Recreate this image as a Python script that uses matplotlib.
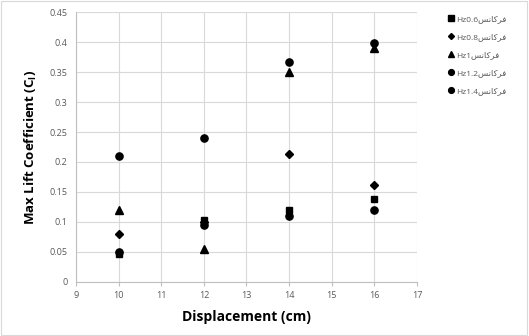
import matplotlib.pyplot as plt
from matplotlib.patches import Rectangle

# data
disp = [10, 12, 14, 16]
cl_06 = [0.046, 0.103, 0.120, 0.138]
cl_08 = [0.080, 0.100, 0.213, 0.161]
cl_10 = [0.120, 0.055, 0.350, 0.390]
cl_12 = [0.050, 0.095, 0.110, 0.120]
cl_14 = [0.210, 0.240, 0.367, 0.398]

freq_word = "\uFEB2\uFEE7\uFE8E\uFB90\uFEAE\uFED3"  # فرکانس, visual order
labels = ["Hz0.6", "Hz0.8", "Hz1", "Hz1.2", "Hz1.4"]
markers = ["s", "D", "^", "o", "o"]
sizes = [5, 3.8, 5.2, 5.2, 5.2]

yticks = [0, 0.05, 0.1, 0.15, 0.2, 0.25, 0.3, 0.35, 0.4, 0.45]
ytick_labels = ["0", "0.05", "0.1", "0.15", "0.2", "0.25", "0.3", "0.35", "0.4", "0.45"]
xticks = [9, 10, 11, 12, 13, 14, 15, 16, 17]

plt.rcParams['font.family'] = ['Open Sans', 'DejaVu Sans']

fig = plt.figure(figsize=(5.29, 3.36), dpi=100)
fig.patches.append(Rectangle((0.002, 0.003), 0.995, 0.993, transform=fig.transFigure,
                             fill=False, edgecolor='#d9d9d9', lw=0.8))
ax = fig.add_axes([0.1437, 0.161, 0.6443, 0.803])

series = [cl_06, cl_08, cl_10, cl_12, cl_14]
for vals, lab, m, ms in zip(series, labels, markers, sizes):
    ax.plot(disp, vals, linestyle='none', marker=m, markersize=ms, color='black',
            label=lab + freq_word, clip_on=False, zorder=3)

ax.set_xlim(9, 17)
ax.set_ylim(0, 0.45)
ax.set_xticks(xticks)
ax.set_yticks(yticks)
ax.set_yticklabels(ytick_labels)
ax.grid(True, color='#d9d9d9', lw=0.8)
ax.set_axisbelow(True)
for s in ['top', 'right']:
    ax.spines[s].set_visible(False)
for s in ['left', 'bottom']:
    ax.spines[s].set_color('#bfbfbf')
    ax.spines[s].set_linewidth(0.8)
ax.tick_params(axis='both', labelsize=6.5, labelcolor='#595959', color='#bfbfbf',
               length=3, width=0.8)
ax.tick_params(axis='y', length=0, pad=6)

ax.set_xlabel('Displacement (cm)', fontsize=10, fontweight='bold', labelpad=7)
ax.set_ylabel('Max Lift Coefficient (C$_\\mathregular{l}$)', fontsize=9.5,
              fontweight='bold', labelpad=8)

leg = ax.legend(loc='upper left', bbox_to_anchor=(1.08, 1.0), frameon=False,
                fontsize=6, handlelength=0.8, handletextpad=0.3, labelspacing=1.2,
                borderaxespad=0, markerscale=0.8)
for t in leg.get_texts():
    t.set_color('#595959')

fig.savefig('out.png', dpi=100)
